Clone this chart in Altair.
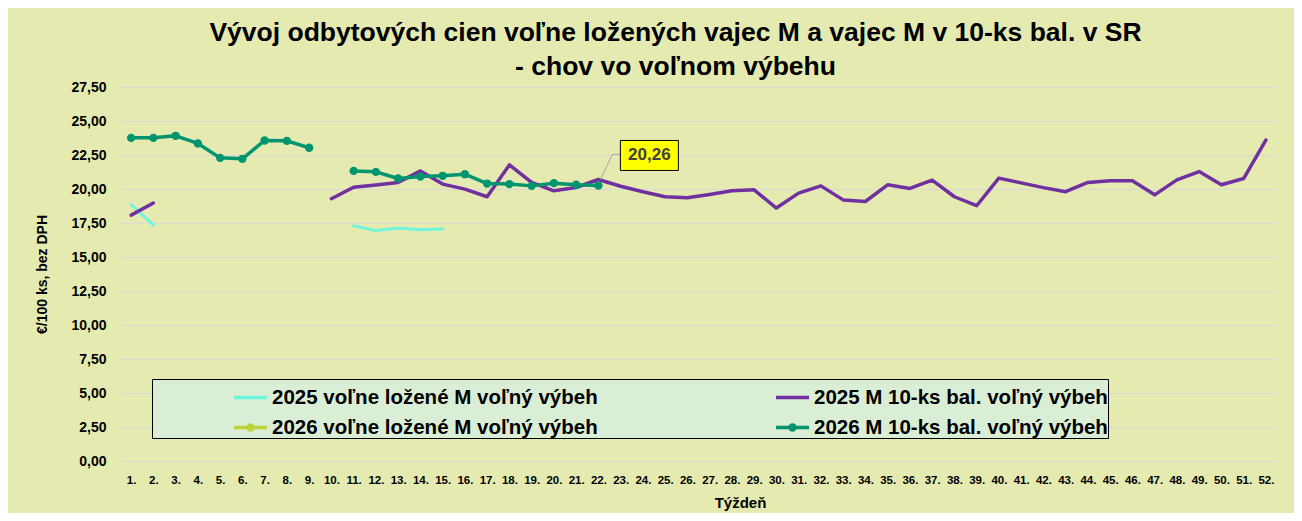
import altair as alt
import pandas as pd

weeks = list(range(1, 53))
N = None

S1 = "2025 voľne ložené M voľný výbeh"
S2 = "2025 M 10-ks bal. voľný výbeh"
S3 = "2026 voľne ložené M voľný výbeh"
S4 = "2026 M 10-ks bal. voľný výbeh"
# legend is laid out column by column: left column voľne ložené, right column 10-ks
series_names = [S1, S3, S2, S4]
series_colors = ["#6EF5DA", "#BCD236", "#7030A0", "#00956F"]

volne_2025 = [18.86, 17.35] + [N] * 8 + [17.30, 16.94, 17.13, 17.01, 17.06] + [N] * 37
bal_2025 = [18.08, 18.97] + [N] * 7 + [
    19.28, 20.13, 20.30, 20.48, 21.33, 20.36, 19.99, 19.43, 21.77, 20.48,
    19.87, 20.11, 20.70, 20.20, 19.80, 19.43, 19.35, 19.60, 19.87, 19.94,
    18.60, 19.70, 20.23, 19.20, 19.08, 20.31, 20.04, 20.65, 19.43, 18.77,
    20.80, 20.45, 20.10, 19.80, 20.48, 20.60, 20.60, 19.57, 20.67, 21.28,
    20.31, 20.77, 23.60]
volne_2026 = [N] * 52
bal_2026 = [23.76, 23.76, 23.91, 23.35, 22.29, 22.22, 23.57, 23.54, 23.03, N,
            21.33, 21.26, 20.77, 20.92, 20.97, 21.09, 20.40, 20.36, 20.23, 20.43,
            20.31, 20.26] + [N] * 30

y_ticks = [0, 2.5, 5, 7.5, 10, 12.5, 15, 17.5, 20, 22.5, 25, 27.5]

rows = []
for name, vals in zip([S1, S2, S3, S4], [volne_2025, bal_2025, volne_2026, bal_2026]):
    seg = 0
    prev = False
    for w, v in zip(weeks, vals):
        if v is None:
            prev = False
            continue
        if not prev:
            seg += 1
        prev = True
        rows.append({"series": name, "week": w, "value": v, "seg": f"{name}-{seg}"})
df = pd.DataFrame(rows)

last_idx = max(i for i, v in enumerate(bal_2026) if v is not None)
ann_df = pd.DataFrame([{"week": weeks[last_idx], "value": bal_2026[last_idx]}])

x_enc = alt.X(
    "week:O",
    scale=alt.Scale(type="point", padding=0.5, domain=weeks),
    axis=alt.Axis(
        labelExpr="datum.label + '.'", labelAngle=0, labelOverlap=False,
        labelFontSize=11.5, labelFontWeight="bold", labelColor="#000000",
        labelPadding=13, ticks=False, domain=False, grid=False,
        titleFontSize=15, titleFontWeight="bold", titleColor="#000000",
        titleX=620, titleY=41, titleAlign="center", titleBaseline="middle",
    ),
    title="Týždeň",
)
y_enc = alt.Y(
    "value:Q",
    scale=alt.Scale(domain=[0, 27.5], nice=False, zero=True),
    axis=alt.Axis(
        values=y_ticks,
        labelExpr="replace(format(datum.value, '.2f'), '.', ',')",
        labelFontSize=14, labelFontWeight="bold", labelColor="#000000",
        labelPadding=14, ticks=False, domain=False,
        gridColor="#D9D9D9", gridWidth=1,
        titleFontSize=14, titleFontWeight="bold", titleColor="#000000",
        titlePadding=21,
    ),
    title="€/100 ks, bez DPH",
)

base = alt.Chart(df)


def line_layer(name, color, width):
    return base.transform_filter(alt.datum.series == name).mark_line(
        strokeWidth=width, strokeJoin="round", strokeCap="round"
    ).encode(x=x_enc, y=y_enc, detail="seg:N", color=alt.value(color))


col = dict(zip(series_names, series_colors))
l_volne25 = line_layer(S1, col[S1], 3)
l_bal25 = line_layer(S2, col[S2], 3.5)
l_bal26 = line_layer(S4, col[S4], 3.5)
dots26 = base.transform_filter(alt.datum.series == S4).mark_point(
    filled=True, size=70, opacity=1
).encode(x=x_enc, y=y_enc, color=alt.value(col[S4]))

line_path = "M-1,0L1,0"
dot_path = "M-1,0L1,0M0.15,0A0.15,0.15 0 1,1 -0.15,0A0.15,0.15 0 1,1 0.15,0"
shape_paths = [dot_path if n.startswith("2026") else line_path for n in series_names]

legend_kw = dict(
    title=None, orient="none", legendX=32, legendY=292, columns=2,
    columnPadding=96, rowPadding=1, padding=0, gridAlign="all",
    fillColor="#DAEED6", strokeColor="#000000",
    symbolSize=1089, symbolStrokeWidth=3.5, symbolOffset=80, symbolOpacity=1,
    labelOffset=3, labelFontSize=20.5, labelFontWeight="bold",
    labelColor="#000000", labelLimit=900,
)
carrier = base.transform_filter("false").mark_point(
    filled=False, strokeWidth=3.5, opacity=1
).encode(
    color=alt.Color("series:N", scale=alt.Scale(domain=series_names, range=series_colors),
                    legend=alt.Legend(**legend_kw)),
    shape=alt.Shape("series:N", scale=alt.Scale(domain=series_names, range=shape_paths),
                    legend=alt.Legend(**legend_kw)),
)

ann = alt.Chart(ann_df)
leader = ann.mark_point(
    shape="M2,-6L14,-31L22,-31", size=4, filled=False, opacity=1,
    stroke="#A6A6A6", strokeWidth=1
).encode(x=x_enc, y=y_enc)
box = ann.mark_point(
    shape="M-29,-15H29V15H-29Z", size=4, filled=True, opacity=1,
    fill="#FFFF00", stroke="#000000", strokeWidth=1, xOffset=51, yOffset=-30
).encode(x=x_enc, y=y_enc)
label = ann.transform_calculate(
    lab="replace(format(datum.value, '.2f'), '.', ',')"
).mark_text(
    dx=51, dy=-30, fontSize=17, fontWeight="bold", color="#404040",
    align="center", baseline="middle"
).encode(x=x_enc, y=y_enc, text="lab:N")

chart = alt.layer(
    l_volne25, l_bal25, l_bal26, dots26, carrier, leader, box, label
).properties(
    width=1157, height=374,
    title=alt.Title(
        text=["Vývoj odbytových cien voľne ložených vajec M a vajec M v 10-ks bal. v SR",
              "- chov vo voľnom výbehu"],
        fontSize=26.5, fontWeight="bold", color="#000000", anchor="middle",
        dx=-23, offset=0, lineHeight=34,
    ),
    autosize=alt.AutoSizeParams(type="none"),
    padding={"left": 112, "top": 79, "right": 17, "bottom": 52},
).configure(
    background="#E5EBB0", font="Liberation Sans"
).configure_view(
    fill="#FFFFFF", stroke="transparent"
)

chart.save("out.html", embed_options={"renderer": "svg", "actions": False})
